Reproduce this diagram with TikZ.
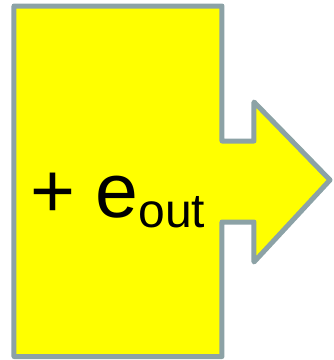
\documentclass[tikz,border=0pt]{standalone}
\usepackage{fontspec}
\setmainfont{Liberation Sans}
\definecolor{edgegray}{HTML}{8CA2A6}
\definecolor{fillyel}{HTML}{FFFF00}
\tikzset{shapeline/.style={draw=edgegray,fill=fillyel,line width=5pt,line join=round}}
\begin{document}
\begin{tikzpicture}[x=1pt,y=-1pt]
\useasboundingbox (0,0) rectangle (334,360);
\draw[shapeline] (14,6) -- (222,6) -- (222,141) -- (254,141) -- (254,102) -- (330,180) -- (254,262) -- (254,222) -- (222,222) -- (222,356.5) -- (14,356.5) -- cycle;
\node[anchor=base west,inner sep=0pt] (lbl) at (30,217) {\fontsize{77}{77}\selectfont +\hspace{-1pt} e\raisebox{-10pt}{\fontsize{48}{48}\selectfont out}};
\end{tikzpicture}
\end{document}
